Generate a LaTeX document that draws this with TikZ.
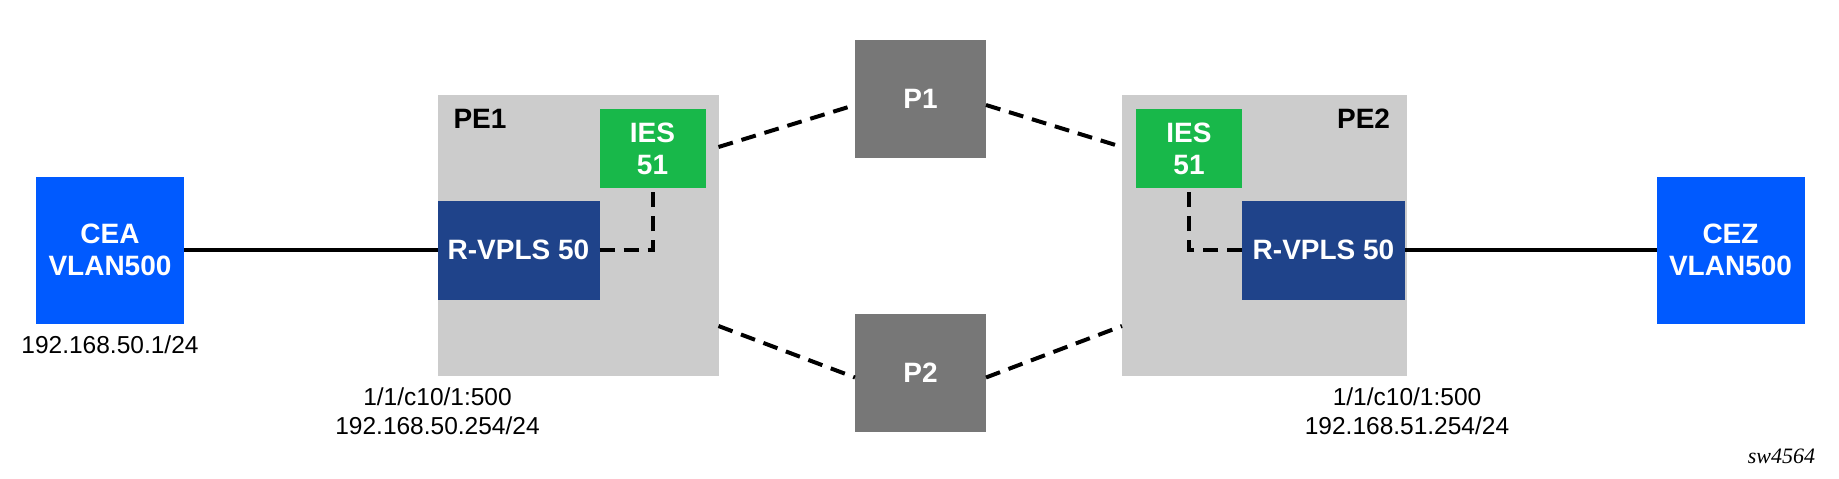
\documentclass[tikz,border=0pt]{standalone}
\usepackage{fontspec}
\usetikzlibrary{positioning}
\setmainfont{Liberation Sans}
\newfontfamily\swfont{Liberation Serif}
\definecolor{ceblue}{HTML}{005AFF}
\definecolor{vplsblue}{HTML}{1F438A}
\definecolor{iesgreen}{HTML}{18B84A}
\definecolor{pegray}{HTML}{CCCCCC}
\definecolor{pgray}{HTML}{777777}
\tikzset{inner sep=0pt,outer sep=0pt}

\begin{document}
\begin{tikzpicture}[x=1pt,y=-1pt,
    box/.style={rectangle,text=white,align=center,
        font=\fontsize{28}{32}\selectfont\bfseries},
    router/.style={rectangle,fill=pegray,minimum height=281pt},
    link/.style={line width=3.5pt},
    dlink/.style={line width=4pt,dash pattern=on 15pt off 9pt},
    addr/.style={align=center,font=\fontsize{24.5}{29}\selectfont}]
    \useasboundingbox (0,0) rectangle (1839,479);
    \node[router,minimum width=281pt] (PE1) at (578,235.5) {};
    \node[router,minimum width=285pt] (PE2) at (1264.5,235.5) {};
    \node[box,fill=ceblue,minimum width=148pt,minimum height=147pt] (CEA) at (110,250) {CEA\\VLAN500};
    \node[box,fill=ceblue,minimum width=148pt,minimum height=147pt] (CEZ) at (1730.5,250) {CEZ\\VLAN500};
    \node[box,fill=vplsblue,minimum width=162pt,minimum height=99pt] (RV1) at (518.5,250) {R-VPLS 50};
    \node[box,fill=vplsblue,minimum width=163pt,minimum height=99pt] (RV2) at (1323.5,250) {R-VPLS 50};
    \node[box,fill=iesgreen,minimum width=106pt,minimum height=79pt] (IES1) at (652.5,148.5) {IES\\51};
    \node[box,fill=iesgreen,minimum width=106pt,minimum height=79pt] (IES2) at (1189,148.5) {IES\\51};
    \node[box,fill=pgray,minimum width=131pt,minimum height=118pt] (P1) at (920.5,99) {P1};
    \node[box,fill=pgray,minimum width=131pt,minimum height=118pt] (P2) at (920.5,372.5) {P2};
    \node[box,text=black,anchor=north west] (PE1label) at ([xshift=16pt,yshift=-14pt]PE1.north west) {PE1};
    \node[box,text=black,anchor=north east] (PE2label) at ([xshift=-17pt,yshift=-14pt]PE2.north east) {PE2};
    \node[addr,below=12pt of CEA] (CEAip) {192.168.50.1/24};
    \node[addr,anchor=north] (PE1ip) at ([yshift=-12pt]PE1.south west) {1/1/c10/1:500\\192.168.50.254/24};
    \node[addr,anchor=north] (PE2ip) at ([yshift=-12pt]PE2.south east) {1/1/c10/1:500\\192.168.51.254/24};
    \node[anchor=base east,font=\fontsize{22}{26}\swfont\itshape] (fig) at (1815,463) {sw4564};
    \draw[link] (CEA) -- (RV1);
    \draw[link] (RV2) -- (CEZ);
    \draw[dlink] (RV1.east) -| (IES1.south);
    \draw[dlink] (RV2.west) -| (IES2.south);
    \draw[dlink] ([yshift=-52pt]PE1.north east) -- ([yshift=-6pt]P1.west);
    \draw[dlink] ([yshift=50pt]PE1.south east) -- ([yshift=-5pt]P2.west);
    \draw[dlink] ([yshift=-6pt]P1.east) -- ([yshift=-52pt]PE2.north west);
    \draw[dlink] ([yshift=-5pt]P2.east) -- ([yshift=50pt]PE2.south west);
\end{tikzpicture}
\end{document}
